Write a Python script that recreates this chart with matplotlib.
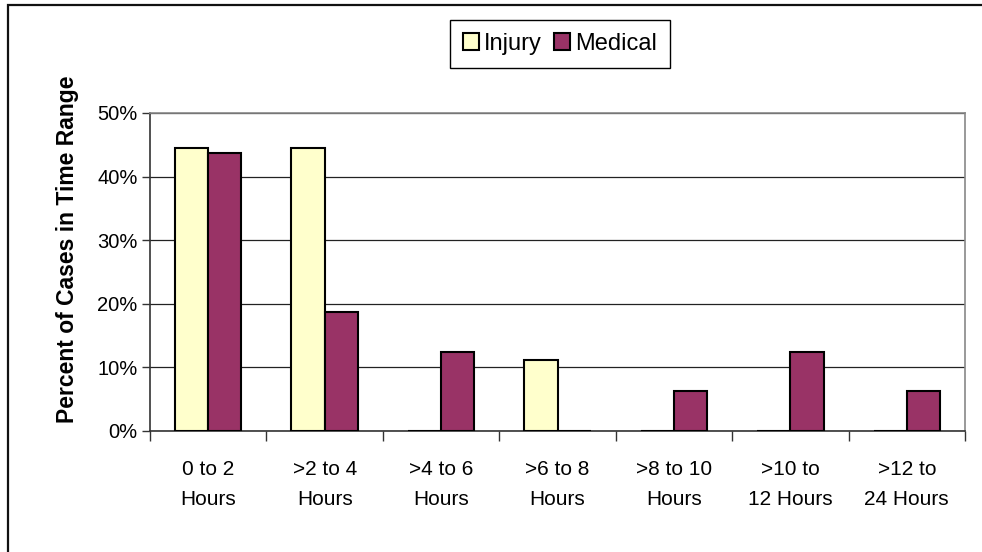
import numpy as np
import matplotlib.pyplot as plt
from matplotlib.patches import Rectangle
from matplotlib.ticker import FixedLocator, PercentFormatter

categories = ["0 to 2\nHours", ">2 to 4\nHours", ">4 to 6\nHours", ">6 to 8\nHours",
              ">8 to 10\nHours", ">10 to\n12 Hours", ">12 to\n24 Hours"]
injury = [44.44, 44.44, 0, 11.11, 0, 0, 0]
medical = [43.75, 18.75, 12.5, 0, 6.25, 12.5, 6.25]

plt.rcParams['font.family'] = ['Liberation Sans', 'DejaVu Sans']

fig = plt.figure(figsize=(9.82, 5.52), dpi=100)
fig.patch.set_facecolor('white')
# outer chart border (right and bottom edges fall outside the image)
fig.patches.append(Rectangle((7.5 / 982, -0.1), 1.2, (552 - 4.5) / 552 + 0.1,
                             transform=fig.transFigure, fill=False,
                             edgecolor='#111111', linewidth=1.6))

ax = fig.add_axes([150 / 982, 1 - 431 / 552, (965 - 150) / 982, (431 - 113) / 552])

x = np.arange(len(categories))
w = 1 / 3.5
ax.bar(x - w / 2, injury, w, color='#FFFFCC', edgecolor='black', linewidth=1.5,
       label='Injury', zorder=3)
ax.bar(x + w / 2, medical, w, color='#993366', edgecolor='black', linewidth=1.5,
       label='Medical', zorder=3)

ax.set_xlim(-0.5, len(categories) - 0.5)
ax.set_ylim(0, 50)
ax.set_yticks(np.arange(0, 51, 10))
ax.yaxis.set_major_formatter(PercentFormatter(decimals=0))
ax.yaxis.grid(True, color='#222222', linewidth=0.9, zorder=0)

ax.xaxis.set_major_locator(FixedLocator(np.arange(-0.5, len(categories), 1)))
ax.set_xticklabels([])
ax.xaxis.set_minor_locator(FixedLocator(x))
ax.set_xticklabels(categories, minor=True, fontsize=15, linespacing=1.75)
ax.tick_params(axis='x', which='minor', length=0, pad=21)
ax.tick_params(axis='x', which='major', length=7, width=1, color='#333333')
ax.tick_params(axis='y', length=6, width=1, labelsize=14.5, pad=3, color='#333333')

for s in ['top', 'right']:
    ax.spines[s].set_color('#888888')
    ax.spines[s].set_linewidth(1.2)
for s in ['left', 'bottom']:
    ax.spines[s].set_color('#333333')
    ax.spines[s].set_linewidth(1.2)

fig.text(68 / 982, 1 - 249 / 552, 'Percent of Cases in Time Range', rotation=90,
         fontsize=16.5, fontweight='bold', ha='center', va='center')

fig.legend(loc='center', bbox_to_anchor=(560 / 982, 1 - 44 / 552), ncol=2,
           fontsize=17, frameon=True, fancybox=False, edgecolor='black',
           framealpha=1, handlelength=0.7, handleheight=0.7,
           handletextpad=0.2, columnspacing=0.5, borderpad=0.55)

fig.savefig('out.png', dpi=100)
